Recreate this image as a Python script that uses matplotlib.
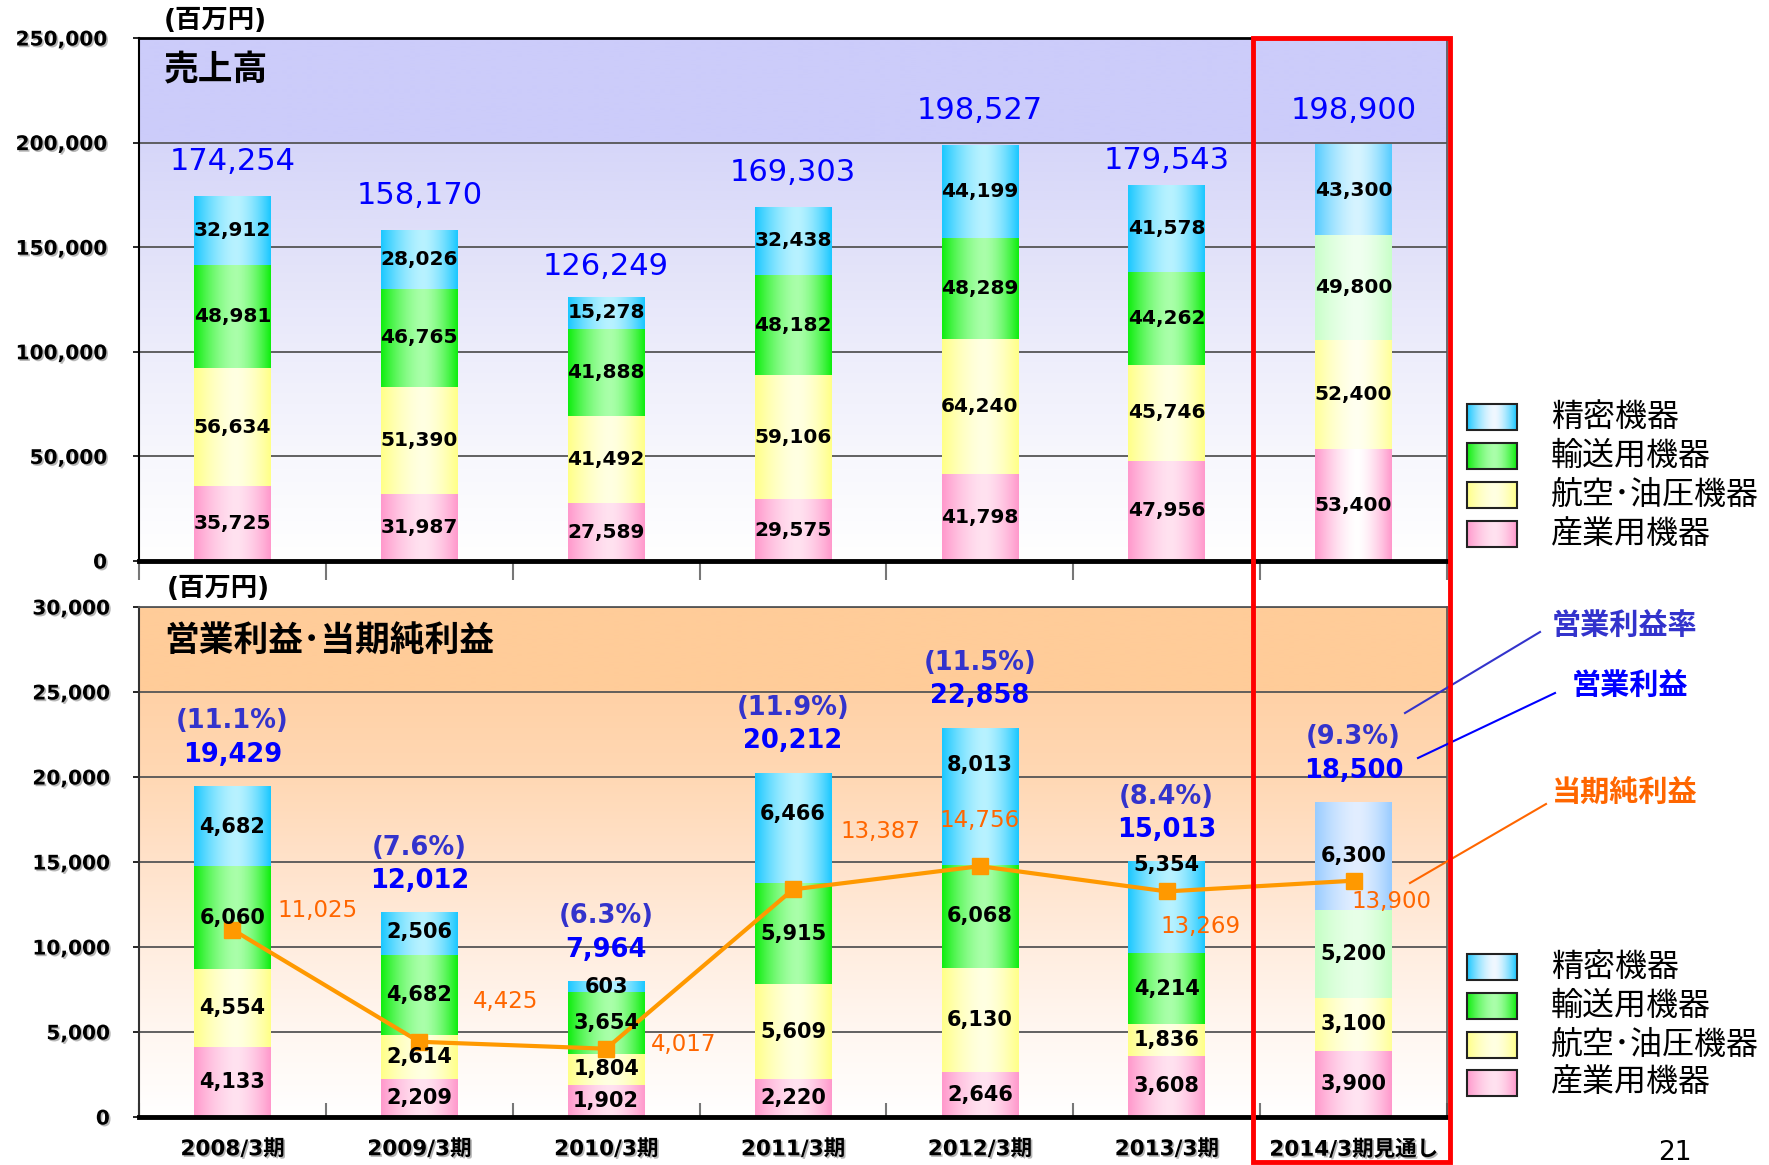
import numpy as np
import matplotlib
matplotlib.use('Agg')
import matplotlib.pyplot as plt
import matplotlib.patheffects as pe
from matplotlib.colors import to_rgb
from matplotlib.lines import Line2D
from matplotlib.patches import Rectangle

plt.rcParams['font.family'] = ['DejaVu Sans', 'Noto Sans CJK JP']

# ---------------- data ----------------
categories = ['2008/3期', '2009/3期', '2010/3期', '2011/3期', '2012/3期', '2013/3期', '2014/3期見通し']
segment_names = ['精密機器', '輸送用機器', '航空･油圧機器', '産業用機器']

sales_precision = [32912, 28026, 15278, 32438, 44199, 41578, 43300]
sales_transport = [48981, 46765, 41888, 48182, 48289, 44262, 49800]
sales_aero = [56634, 51390, 41492, 59106, 64240, 45746, 52400]
sales_industrial = [35725, 31987, 27589, 29575, 41798, 47956, 53400]
sales_total = [174254, 158170, 126249, 169303, 198527, 179543, 198900]

op_precision = [4682, 2506, 603, 6466, 8013, 5354, 6300]
op_transport = [6060, 4682, 3654, 5915, 6068, 4214, 5200]
op_aero = [4554, 2614, 1804, 5609, 6130, 1836, 3100]
op_industrial = [4133, 2209, 1902, 2220, 2646, 3608, 3900]
op_total = [19429, 12012, 7964, 20212, 22858, 15013, 18500]
op_margin = [11.1, 7.6, 6.3, 11.9, 11.5, 8.4, 9.3]
net_income = [11025, 4425, 4017, 13387, 14756, 13269, 13900]

upper_ticks = [0, 50000, 100000, 150000, 200000, 250000]
lower_ticks = [0, 5000, 10000, 15000, 20000, 25000, 30000]

# ---------------- layout / style ----------------
W, H = 1769, 1165
BAR_W = 0.41
FORECAST = 6

seg_colors = {
    'precision': ('#1CC8FF', '#B8F2FF'),
    'transport': ('#10EE10', '#AAFFAA'),
    'aero': ('#FFFF88', '#FFFFE2'),
    'industrial': ('#FF99CC', '#FFE2F0'),
}
fc_upper = {
    'precision': ('#55CCFF', '#D6F4FF'),
    'transport': ('#C8FFC8', '#F0FFF0'),
    'aero': ('#FFFF99', '#FFFFF0'),
    'industrial': ('#FF99CC', '#FFFFFF'),
}
fc_lower = {
    'precision': ('#99CCFF', '#E2EEFF'),
    'transport': ('#C4FFC4', '#E8FFE8'),
    'aero': ('#FFFF99', '#FFFFE8'),
    'industrial': ('#FF99CC', '#FFE4F2'),
}
# vertical placement of the top-segment labels in the lower chart (fraction of segment)
lower_top_label_frac = [0.5, 0.55, 0.5, 0.63, 0.73, 0.97, 0.5]
# offsets (points) of the net-income labels from their markers
net_label_offsets = [(61, 14), (62, 29), (56, 3), (63, 42), (0, 33), (24, -25), (27, -15)]
# offsets (points) of the total labels above the bars
upper_total_offsets = [25, 25, 22, 25, 25, 18, 25]

BLUE = '#0000FF'
PURPLE = '#3333CC'
ORANGE = '#FF6600'
LINE_ORANGE = '#FF9900'
SHADOW = [pe.withSimplePatchShadow(offset=(1.2, -1.2), shadow_rgbFace='#888888', alpha=0.6)]


def hgrad(edge, center, n=64):
    t = np.linspace(0, 1, n)
    c0 = 0.55
    d = np.where(t < c0, (c0 - t) / c0, (t - c0) / (1 - c0))
    w = 1 - d ** 1.6
    e = np.array(to_rgb(edge))
    c = np.array(to_rgb(center))
    return (e[None, :] * (1 - w[:, None]) + c[None, :] * w[:, None])[None, :, :]


def vgrad(stops, n=400):
    t = np.linspace(0, 1, n)
    fr = [s[0] for s in stops]
    cols = np.array([to_rgb(s[1]) for s in stops])
    arr = np.stack([np.interp(t, fr, cols[:, k]) for k in range(3)], axis=1)
    return arr[:, None, :]


fig = plt.figure(figsize=(W / 100, H / 100), dpi=100)


def fx(px):
    return px / W


def fy(py):
    return 1 - py / H


ax1 = fig.add_axes([fx(139), fy(561), fx(1447) - fx(139), fy(38) - fy(561)])
ax2 = fig.add_axes([fx(139), fy(1117), fx(1447) - fx(139), fy(607) - fy(1117)])

x = np.arange(len(categories))

# backgrounds
ax1.imshow(vgrad([(0, '#FFFFFF'), (0.2, '#F7F7FD'), (0.4, '#EDEDFB'), (0.6, '#E1E1F9'),
                  (0.799, '#D6D6F9'), (0.8, '#CCCCFA'), (1, '#CCCCFA')]),
           extent=(-0.5, 6.5, 0, 250000), origin='lower', aspect='auto', zorder=0,
           interpolation='bilinear')
ax2.imshow(vgrad([(0, '#FFFFFF'), (0.166, '#FFF7F1'), (0.333, '#FFEDDF'), (0.5, '#FFE2CA'),
                  (0.666, '#FFD8B4'), (0.8329, '#FFD1A6'), (0.833, '#FFCC99'), (1, '#FFCC99')]),
           extent=(-0.5, 6.5, 0, 30000), origin='lower', aspect='auto', zorder=0,
           interpolation='bilinear')


def draw_stack(ax, series, fc_colors, fsize, top_frac=None):
    bottoms = np.zeros(len(categories))
    for k, (key, vals) in enumerate(series):
        vals = np.array(vals, dtype=float)
        bars = ax.bar(x, vals, BAR_W, bottom=bottoms, color=seg_colors[key][0], lw=0, zorder=2)
        for j, rect in enumerate(bars):
            edge, center = (fc_colors if j == FORECAST else seg_colors)[key]
            x0, y0 = rect.get_x(), rect.get_y()
            ax.imshow(hgrad(edge, center), extent=(x0, x0 + rect.get_width(), y0, y0 + rect.get_height()),
                      aspect='auto', zorder=2.1, interpolation='bilinear')
            frac = 0.5
            if top_frac is not None and k == len(series) - 1:
                frac = top_frac[j]
            ax.text(x[j], y0 + rect.get_height() * frac, f'{int(vals[j]):,}', ha='center', va='center',
                    fontsize=fsize, fontweight='bold', color='black', zorder=6)
        bottoms += vals
    return bottoms


draw_stack(ax1, [('industrial', sales_industrial), ('aero', sales_aero),
                 ('transport', sales_transport), ('precision', sales_precision)], fc_upper, 14.5)
draw_stack(ax2, [('industrial', op_industrial), ('aero', op_aero),
                 ('transport', op_transport), ('precision', op_precision)], fc_lower, 15,
           top_frac=lower_top_label_frac)

# totals
for i, v in enumerate(sales_total):
    ax1.annotate(f'{v:,}', xy=(x[i], v), xytext=(0, upper_total_offsets[i]), textcoords='offset points',
                 ha='center', va='center', fontsize=22, color=BLUE, zorder=7)
for i, v in enumerate(op_total):
    ax2.annotate(f'{v:,}', xy=(x[i], v), xytext=(0, 23), textcoords='offset points',
                 ha='center', va='center', fontsize=18.5, fontweight='bold', color=BLUE, zorder=7)
    ax2.annotate(f'({op_margin[i]:.1f}%)', xy=(x[i], v), xytext=(0, 47), textcoords='offset points',
                 ha='center', va='center', fontsize=18.5, fontweight='bold', color=PURPLE, zorder=7)

# net income line
ax2.plot(x, net_income, color=LINE_ORANGE, lw=3, marker='s', ms=11, mfc=LINE_ORANGE,
         mec=LINE_ORANGE, zorder=5)
for i, v in enumerate(net_income):
    ax2.annotate(f'{v:,}', xy=(x[i], v), xytext=net_label_offsets[i], textcoords='offset points',
                 ha='center', va='center', fontsize=16.5, color=ORANGE, zorder=7)

# axes styling
for ax, ymax, ticks in [(ax1, 250000, upper_ticks), (ax2, 30000, lower_ticks)]:
    ax.set_xlim(-0.5, 6.5)
    ax.set_ylim(0, ymax)
    ax.set_yticks(ticks)
    ax.set_yticklabels([f'{t:,}' for t in ticks])
    for lbl in ax.get_yticklabels():
        lbl.set_fontweight('bold')
        lbl.set_path_effects(SHADOW)
    ax.yaxis.grid(True, color='#555555', lw=1.3)
    ax.set_axisbelow(True)
    ax.set_xticks(np.arange(-0.5, 7.0, 1.0))
    ax.set_xticklabels([])

ax1.tick_params(axis='y', length=4, pad=19, labelsize=14.5, width=1.2)
ax1.tick_params(axis='x', which='major', direction='out', length=14, width=1.5, color='#777777')
ax2.tick_params(axis='y', length=4, pad=17, labelsize=14.5, width=1.2)
ax2.tick_params(axis='x', which='major', direction='in', length=10, width=1.5, color='#777777')
ax2.set_xticks(x, minor=True)
ax2.set_xticklabels(categories, minor=True)
ax2.tick_params(axis='x', which='minor', length=0, pad=16, labelsize=15.5)
for lbl in ax2.get_xticklabels(minor=True):
    lbl.set_fontweight('bold')
    lbl.set_path_effects(SHADOW)

ax1.spines['left'].set_color('black'); ax1.spines['left'].set_linewidth(1.5)
ax1.spines['top'].set_color('black'); ax1.spines['top'].set_linewidth(2)
ax1.spines['right'].set_color('#555555'); ax1.spines['right'].set_linewidth(1.2)
ax1.spines['bottom'].set_color('black'); ax1.spines['bottom'].set_linewidth(3.5)
ax2.spines['left'].set_color('#333333'); ax2.spines['left'].set_linewidth(1.5)
ax2.spines['top'].set_color('#555555'); ax2.spines['top'].set_linewidth(1.3)
ax2.spines['right'].set_color('#555555'); ax2.spines['right'].set_linewidth(1.2)
ax2.spines['bottom'].set_color('black'); ax2.spines['bottom'].set_linewidth(3.5)
for ax in (ax1, ax2):
    for s in ax.spines.values():
        s.set_zorder(8)

# chart titles
ax1.text(0.019, 0.938, '売上高', transform=ax1.transAxes, ha='left', va='center',
         fontsize=25, fontweight='bold', color='black', zorder=7)
ax2.text(0.019, 0.933, '営業利益･当期純利益', transform=ax2.transAxes, ha='left', va='center',
         fontsize=25, fontweight='bold', color='black', zorder=7)
fig.text(fx(164), fy(21), '(百万円)', ha='left', va='center', fontsize=19, fontweight='bold')
fig.text(fx(167), fy(589), '(百万円)', ha='left', va='center', fontsize=19, fontweight='bold')

# overlay for legends, annotation lines and red box
ov = fig.add_axes([0, 0, 1, 1])
ov.set_xlim(0, W)
ov.set_ylim(H, 0)
ov.axis('off')

legend_keys = ['precision', 'transport', 'aero', 'industrial']
for rows in ([417, 456, 495, 534], [967, 1006, 1045, 1083]):
    for key, name, yc in zip(legend_keys, segment_names, rows):
        x0, x1 = 1467, 1517
        h = 26
        ov.imshow(hgrad(seg_colors[key][0], '#F0F8FF' if key == 'precision' else seg_colors[key][1]),
                  extent=(x0, x1, yc + h / 2, yc - h / 2), aspect='auto', interpolation='bilinear', zorder=3)
        ov.add_patch(Rectangle((x0, yc - h / 2), x1 - x0, h, fill=False, ec='#222222', lw=1.5, zorder=4))
        ov.text(1551, yc, name, ha='left', va='center', fontsize=23, color='black', zorder=4)

# annotation labels and leader lines
ov.text(1625, 626, '営業利益率', ha='center', va='center', fontsize=21, fontweight='bold', color=PURPLE)
ov.text(1630, 686, '営業利益', ha='center', va='center', fontsize=21, fontweight='bold', color=BLUE)
ov.text(1625, 793, '当期純利益', ha='center', va='center', fontsize=21, fontweight='bold', color=ORANGE)
ov.add_line(Line2D([1540, 1405], [632, 713], color=PURPLE, lw=1.5))
ov.add_line(Line2D([1555, 1418], [693, 758], color=BLUE, lw=1.5))
ov.add_line(Line2D([1546, 1410], [804, 883], color=ORANGE, lw=1.5))

# red box around forecast year
ov.add_patch(Rectangle((1253, 38), 1450 - 1253, 1162 - 38, fill=False, ec='#FF0000', lw=3.5, zorder=10))

# page number
ov.text(1675, 1153, '21', ha='center', va='center', fontsize=19, color='black')

fig.savefig('out.png', dpi=100)
